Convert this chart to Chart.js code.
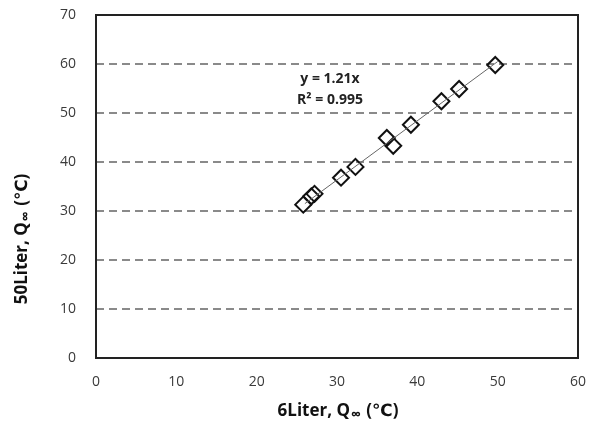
<!DOCTYPE html>
<html lang="en">
<head>
  <meta charset="utf-8">
  <title>6Liter vs 50Liter</title>
  <script src="https://cdn.jsdelivr.net/npm/chart.js@4.4.1/dist/chart.umd.min.js"></script>
  <style>
    html, body { margin: 0; padding: 0; background: #fff; }
    #wrap { width: 597px; height: 432px; }
  </style>
</head>
<body>
  <div id="wrap"><canvas id="chart" width="597" height="432"></canvas></div>
  <script>
    // measured points (6Liter vs 50Liter)
    const xVals = [25.8, 26.8, 27.2, 30.5, 32.3, 36.2, 37.0, 39.2, 43.0, 45.2, 49.7];
    const yVals = [31.3, 33.0, 33.5, 36.8, 39.0, 44.9, 43.3, 47.6, 52.4, 54.9, 59.8];
    // trendline end points, y = 1.21x
    const trendX = [26.0, 50.0];
    const trendY = [31.5, 60.5];
    const xTicks = [0, 10, 20, 30, 40, 50, 60];
    const yTicks = [0, 10, 20, 30, 40, 50, 60, 70];

    const FONT = "'Open Sans', 'DejaVu Sans', sans-serif";

    // axis titles with subscript, equation text and plot border
    const decor = {
      id: 'decor',
      afterDatasetsDraw(chart) {
        const ctx = chart.ctx;
        const a = chart.chartArea;
        ctx.save();
        ctx.strokeStyle = '#222';
        ctx.lineWidth = 2;
        ctx.strokeRect(a.left, a.top, a.right - a.left, a.bottom - a.top);

        function subTitle(pre, sub, post, cx, cy, rot) {
          ctx.save();
          ctx.translate(cx, cy);
          ctx.rotate(rot);
          ctx.fillStyle = '#111';
          ctx.textBaseline = 'middle';
          ctx.textAlign = 'left';
          const big = 'bold 17px ' + FONT, small = 'bold 14px ' + FONT;
          ctx.font = big; const w1 = ctx.measureText(pre).width;
          ctx.font = small; const w2 = ctx.measureText(sub).width;
          ctx.font = big; const w3 = ctx.measureText(post).width;
          let x = -(w1 + w2 + w3) / 2;
          ctx.font = big; ctx.fillText(pre, x, 0); x += w1;
          ctx.font = small; ctx.fillText(sub, x + 1, 4); x += w2 + 2;
          ctx.font = big; ctx.fillText(post, x, 0);
          ctx.restore();
        }
        subTitle('6Liter, Q', '\u221E', ' (\u2103)', 337, 411, 0);
        subTitle('50Liter, Q', '\u221E', ' (\u2103)', 22, 240, -Math.PI / 2);

        // equation label
        ctx.fillStyle = '#222';
        ctx.font = 'bold 14px ' + FONT;
        ctx.textAlign = 'center';
        ctx.textBaseline = 'middle';
        ctx.fillText('y = 1.21x', 330, 79);
        ctx.fillText('R\u00B2 = 0.995', 330, 100);
        ctx.restore();
      }
    };

    const points = xVals.map((x, i) => ({ x: x, y: yVals[i] }));
    const trend = trendX.map((x, i) => ({ x: x, y: trendY[i] }));

    new Chart(document.getElementById('chart'), {
      type: 'scatter',
      data: {
        datasets: [{
          data: trend,
          showLine: true,
          borderColor: '#666',
          borderWidth: 1,
          pointRadius: 0,
          fill: false
        }, {
          data: points,
          pointStyle: 'rectRot',
          pointRadius: 8,
          pointBorderWidth: 2,
          pointBorderColor: '#111',
          pointBackgroundColor: 'rgba(255,255,255,0)'
        }]
      },
      options: {
        responsive: false,
        animation: false,
        layout: { padding: { left: 0, right: 19, top: 15, bottom: 0 } },
        plugins: { legend: { display: false }, tooltip: { enabled: false } },
        scales: {
          x: {
            type: 'linear',
            min: 0, max: 60,
            afterFit(s) { s.height = 74; s.paddingLeft = 0; s.paddingRight = 0; },
            afterBuildTicks(s) { s.ticks = xTicks.map(v => ({ value: v })); },
            grid: { display: false, drawTicks: false },
            border: { display: false },
            ticks: { padding: 16, color: '#3a3a3a', font: { family: FONT, size: 14 } }
          },
          y: {
            type: 'linear',
            min: 0, max: 70,
            afterFit(s) { s.width = 96; s.paddingTop = 0; s.paddingBottom = 0; },
            afterBuildTicks(s) { s.ticks = yTicks.map(v => ({ value: v })); },
            grid: {
              drawTicks: false,
              color: ctx => (ctx.tick && (ctx.tick.value === 0 || ctx.tick.value === 70)) ? 'rgba(0,0,0,0)' : '#8a8a8a',
              lineWidth: 2
            },
            border: { display: false, dash: [8, 5] },
            ticks: { padding: 20, color: '#3a3a3a', font: { family: FONT, size: 14 } }
          }
        }
      },
      plugins: [decor]
    });
  </script>
</body>
</html>
